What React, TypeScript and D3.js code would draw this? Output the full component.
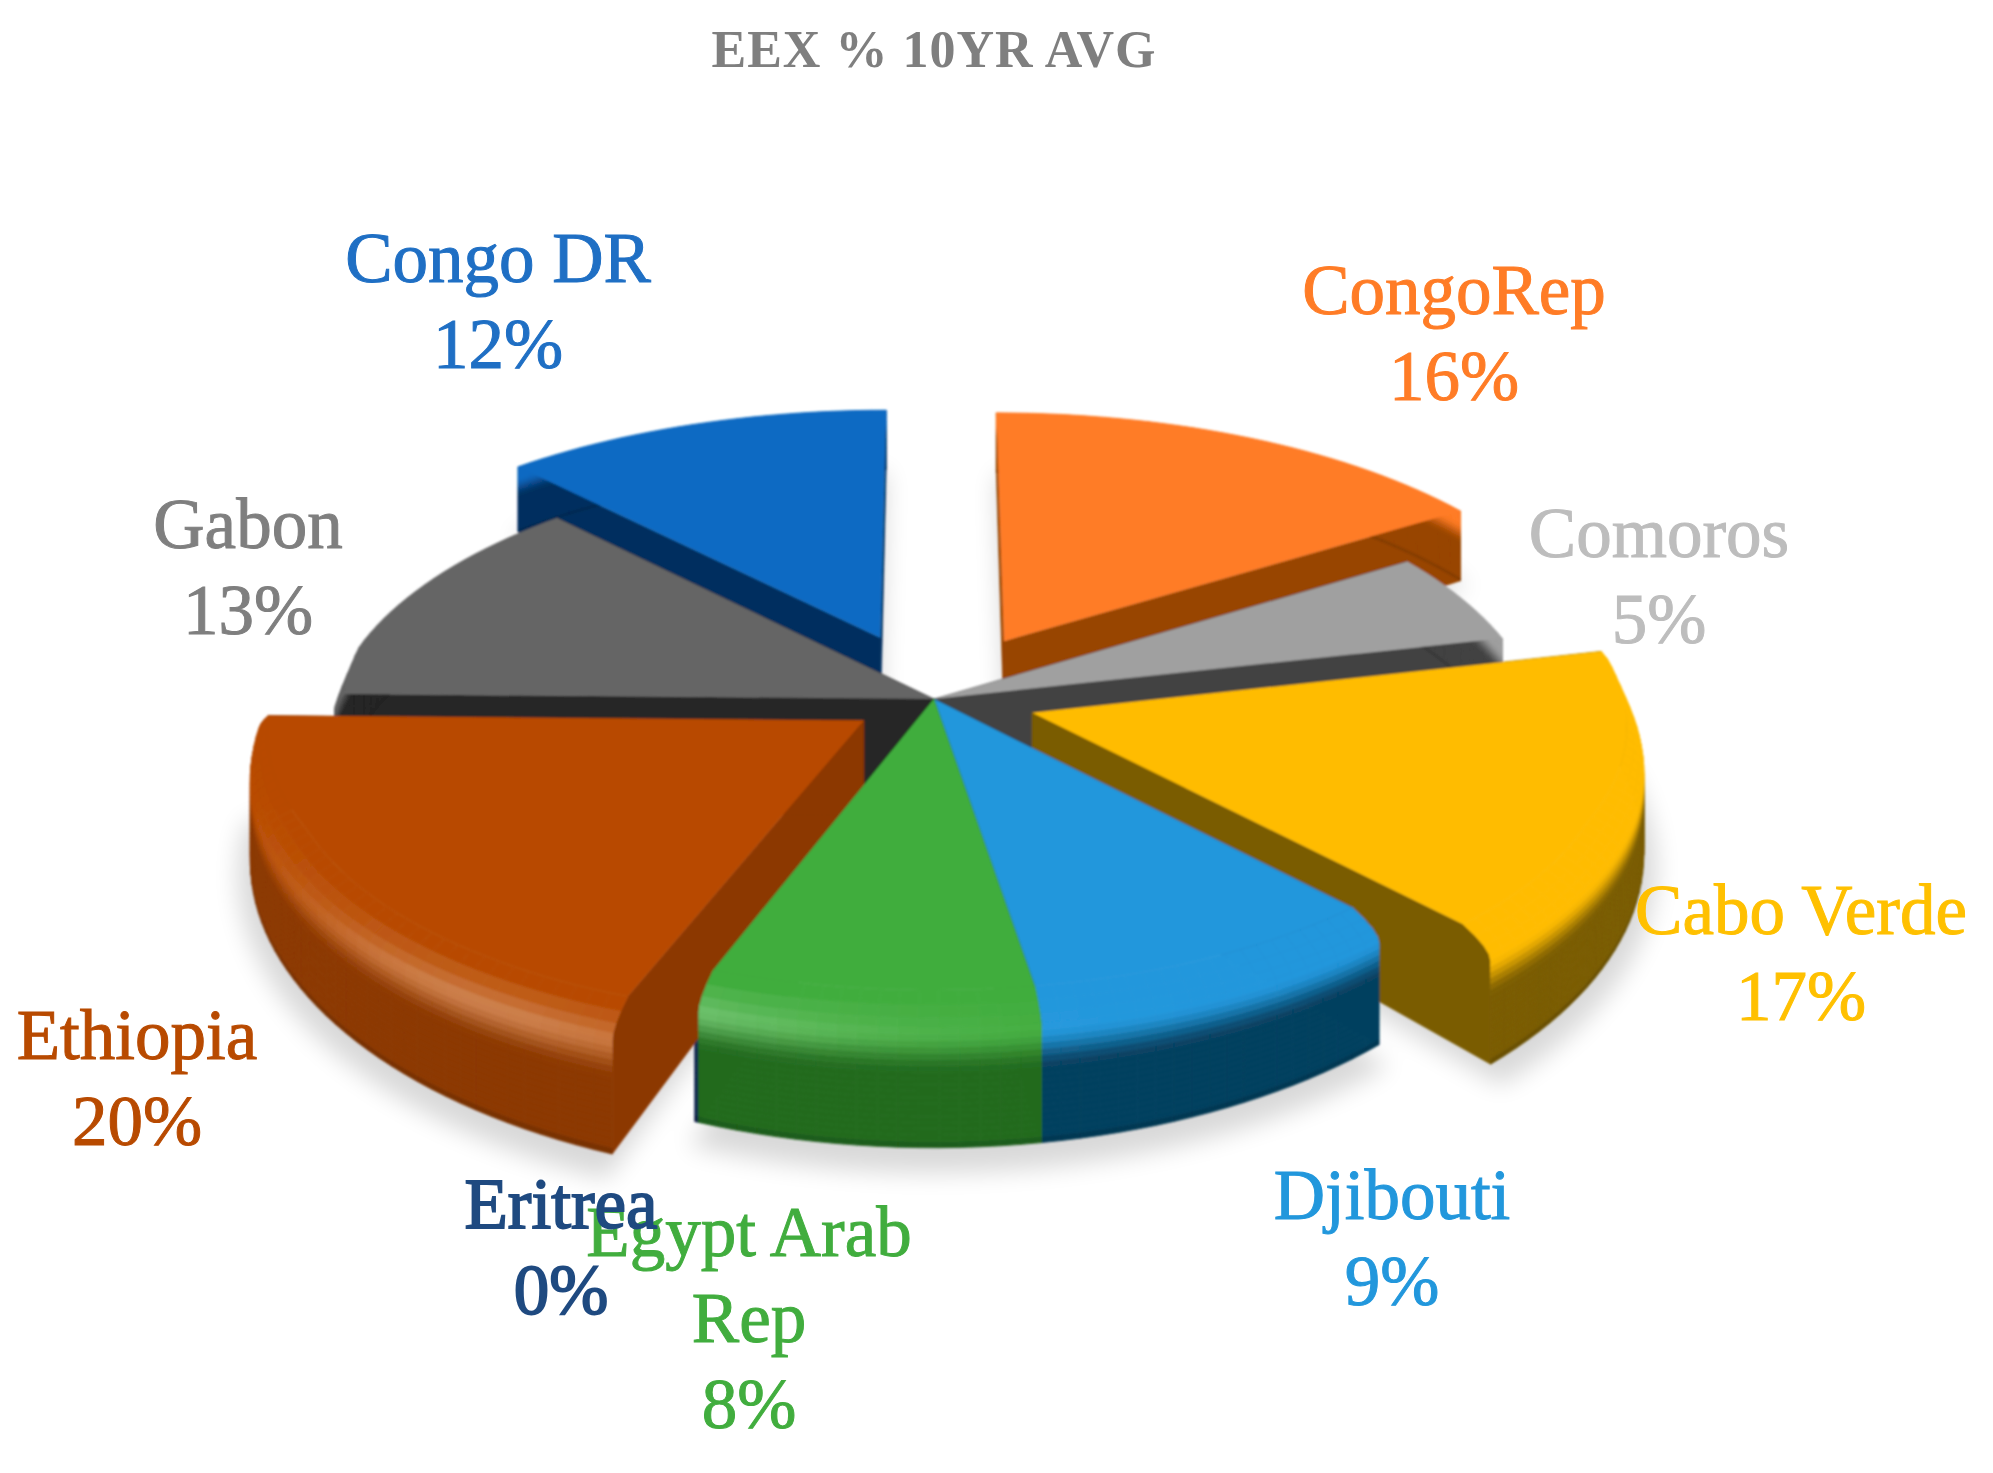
import React from "react";
import * as d3 from "d3";

// chart values
const categories = ["CongoRep", "Comoros", "Cabo Verde", "Djibouti", "Egypt Arab Rep", "Eritrea", "Ethiopia", "Gabon", "Congo DR"];
const values = [15.9, 5.4, 17, 9.2, 8.1, 0.1, 19.6, 12.7, 12];
const labelLines = [["CongoRep"], ["Comoros"], ["Cabo Verde"], ["Djibouti"], ["Egypt Arab", "Rep"], ["Eritrea"], ["Ethiopia"], ["Gabon"], ["Congo DR"]];

// look of the slices
const explodeBy = [0.25, 0, 0.17, 0, 0, 0, 0.14, 0, 0.25];
const topColors = ["#FF7C26", "#A0A0A0", "#FFBC00", "#2297DC", "#41AD3E", "#264478", "#B84A00", "#656565", "#0E6AC3"];
const wallColors = ["#984500", "#424242", "#7A5C00", "#06405F", "#236B1F", "#132A50", "#8C3800", "#262626", "#032F5F"];
const textColors = ["#FF7C26", "#BDBDBD", "#FFC000", "#2297DC", "#41AD3E", "#1F4A80", "#B84A00", "#7F7F7F", "#1F6FC4"];
const drawOrder = ["Eritrea", "Congo DR", "CongoRep", "Gabon", "Comoros", "Cabo Verde", "Ethiopia", "Djibouti", "Egypt Arab Rep"];

// label anchors
const labelX = [1454, 1659, 1801, 1392, 749, 561, 137, 248, 498];
const labelY = [314, 557, 934, 1219, 1256, 1228, 1059, 548, 282];

const width = 1993;
const height = 1473;
const cx = 934;
const cy = 699;
const rx = 601;
const ry = 271;
const depth = 92;
const persp = 0.127;
const lineGap = 86;
const bevelLevels = 22;

const project = (x: number, z: number, h: number): [number, number] => {
  const s = 1 / (1 - persp * z);
  return [cx + x * rx * s, cy + z * ry * s + h * depth * s * s * s];
};

const linePath = d3.line();
const closed = (pts: [number, number][]) => linePath(pts) + "Z";

const pieGen = d3.pie<number>().sort(null).startAngle(0).endAngle(2 * Math.PI);
const arcs = pieGen(values);

const bevelInset = (a: number) => {
  const z = -Math.cos(a);
  return 0.055 * Math.max(0, Math.min(1, (z + 0.2) / 0.6));
};

// t runs down the rim, 0 on the top face, 1 at the bottom of the wall
const rimPoint = (a: number, t: number, ox: number, oz: number) => {
  const k = Math.max(0, 1 - t / 0.18);
  const r = 1 - k * k * bevelInset(a);
  return project(Math.sin(a) * r + ox, -Math.cos(a) * r + oz, t);
};

const highlight = (a: number) => {
  const deg = (a * 180) / Math.PI;
  return Math.exp(-Math.pow((deg - 212) / 26, 2));
};

const smooth = (u: number) => {
  const c = Math.max(0, Math.min(1, u));
  return c * c * (3 - 2 * c);
};

const rimColor = (a: number, t: number, top: string, wall: string) => {
  const lit = d3.interpolateRgb(top, "#ffffff")(0.3 * highlight(a));
  if (t < 0.14) return d3.interpolateRgb(top, lit)(t / 0.14);
  if (t < 0.94) return d3.interpolateRgb(lit, wall)(smooth((t - 0.14) / 0.3));
  return d3.rgb(wall).darker(0.4).formatHex();
};

const angleSteps = (a0: number, a1: number) => {
  const n = Math.max(2, Math.ceil((a1 - a0) / 0.03));
  return d3.range(n + 1).map((i) => a0 + ((a1 - a0) * i) / n);
};

const levels = d3.range(bevelLevels + 1).map((i) => i / bevelLevels);

function Slice({ index }: { index: number }) {
  const arc = arcs[index];
  const mid = (arc.startAngle + arc.endAngle) / 2;
  const ox = Math.sin(mid) * explodeBy[index];
  const oz = -Math.cos(mid) * explodeBy[index];
  const top = topColors[index];
  const wall = wallColors[index];
  const angles = angleSteps(arc.startAngle, arc.endAngle);

  // cut faces
  const face = (a: number) =>
    closed([project(ox, oz, 0), ...levels.map((t) => rimPoint(a, t, ox, oz)), project(ox, oz, 1)]);

  // rim bands, bottom one first, the top face covers the back part
  const bands: React.ReactNode[] = [];
  for (let j = levels.length - 2; j >= 0; j--) {
    for (let i = 0; i < angles.length - 1; i++) {
      const a0 = angles[i];
      const a1 = angles[i + 1];
      const color = rimColor(a0, levels[j], top, wall);
      const d = closed([
        rimPoint(a0, levels[j], ox, oz),
        rimPoint(a1, levels[j], ox, oz),
        rimPoint(a1, levels[j + 1], ox, oz),
        rimPoint(a0, levels[j + 1], ox, oz),
      ]);
      bands.push(<path key={`${j}-${i}`} d={d} fill={color} stroke={color} strokeWidth={0.8} />);
    }
  }

  const topPath = closed([project(ox, oz, 0), ...angles.map((a) => rimPoint(a, 0, ox, oz))]);

  return (
    <g>
      <path d={face(arc.startAngle)} fill={wall} stroke={wall} strokeWidth={0.6} />
      <path d={face(arc.endAngle)} fill={wall} stroke={wall} strokeWidth={0.6} />
      {bands}
      <path d={topPath} fill={top} />
    </g>
  );
}

export default function App() {
  const shadow = arcs
    .map((arc, i) => {
      const mid = (arc.startAngle + arc.endAngle) / 2;
      const ox = Math.sin(mid) * explodeBy[i];
      const oz = -Math.cos(mid) * explodeBy[i];
      return closed([
        project(ox, oz, 1.12),
        ...angleSteps(arc.startAngle, arc.endAngle).map((a) => project(Math.sin(a) * 1.02 + ox, -Math.cos(a) * 1.02 + oz, 1.12)),
      ]);
    })
    .join(" ");

  const fmt = d3.format(".0%");

  return (
    <svg
      width={width}
      height={height}
      viewBox={`0 0 ${width} ${height}`}
      style={{ position: "absolute", left: 0, top: 0, background: "#fff", display: "block" }}
      fontFamily="'Liberation Serif', serif"
    >
      <defs>
        <filter id="groundBlur" x="-20%" y="-20%" width="140%" height="140%">
          <feGaussianBlur stdDeviation="12" />
        </filter>
        <filter id="soft" x="-5%" y="-5%" width="110%" height="110%">
          <feGaussianBlur stdDeviation="0.9" />
        </filter>
      </defs>

      <text x={934} y={67} textAnchor="middle" fontSize={52} fontWeight={700} fill="#7F7F7F" letterSpacing={1}>
        EEX % 10YR AVG
      </text>

      <path d={shadow} fill="#000" opacity={0.15} filter="url(#groundBlur)" />

      <g filter="url(#soft)">
        {drawOrder.map((name) => (
          <Slice key={name} index={categories.indexOf(name)} />
        ))}
      </g>

      {categories.map((name, i) => {
        const lines = [...labelLines[i], fmt(values[i] / 100)];
        return (
          <text
            key={name}
            textAnchor="middle"
            fontSize={71}
            fill={textColors[i]}
            stroke={textColors[i]}
            strokeWidth={name === "Eritrea" ? 1.8 : 1}
          >
            {lines.map((t, j) => (
              <tspan key={j} x={labelX[i]} y={labelY[i] + j * lineGap}>
                {t}
              </tspan>
            ))}
          </text>
        );
      })}
    </svg>
  );
}
